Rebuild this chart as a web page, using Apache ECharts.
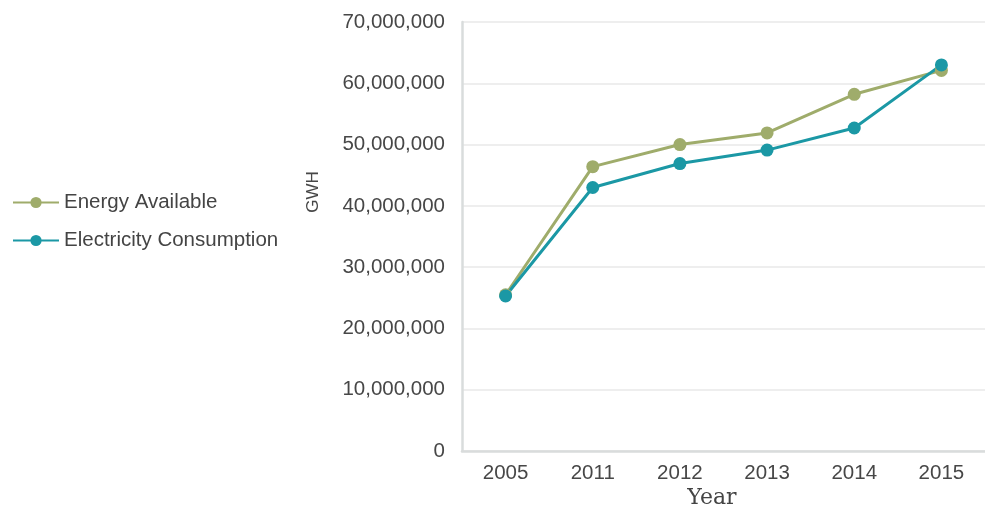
<!DOCTYPE html>
<html>
<head>
<meta charset="utf-8">
<script src="https://cdn.jsdelivr.net/npm/echarts@6/dist/echarts.min.js"></script>
<style>
  html, body { margin: 0; padding: 0; background: #ffffff; }
  #chart { width: 985px; height: 512px; }
</style>
</head>
<body>
<div id="chart"></div>
<script>
// Years on the category axis
const years = ['2005', '2011', '2012', '2013', '2014', '2015'];

// Annual totals in GWH
const energyAvailable = [25500000, 46400000, 50000000, 51900000, 58200000, 62100000];
const electricityConsumption = [25300000, 43000000, 46900000, 49100000, 52700000, 63000000];

// Value axis ticks
const yMin = 0;
const yMax = 70000000;
const yStep = 10000000;

const olive = '#9fac6b';
const teal = '#1b98a5';
const labelFont = 'Liberation Sans, Arial, sans-serif';
const labelSize = 20.5;

const chart = echarts.init(document.getElementById('chart'));

chart.setOption({
  animation: false,
  backgroundColor: '#ffffff',
  grid: { left: 462, top: 22, width: 530, height: 429, containLabel: false },
  legend: {
    orient: 'vertical',
    left: 12,
    top: 192,
    padding: 0,
    itemWidth: 46,
    itemHeight: 14,
    itemGap: 17,
    textStyle: { fontFamily: labelFont, fontSize: labelSize, color: '#444444' },
    data: ['Energy Available', 'Electricity Consumption']
  },
  xAxis: {
    type: 'category',
    data: years,
    boundaryGap: true,
    axisLine: { show: true, lineStyle: { color: '#d9dcdc', width: 2.5 } },
    axisTick: { show: false },
    axisLabel: { margin: 12, fontFamily: labelFont, fontSize: labelSize, color: '#474747' },
    splitLine: { show: false }
  },
  yAxis: {
    type: 'value',
    min: yMin,
    max: yMax,
    interval: yStep,
    axisLine: { show: true, lineStyle: { color: '#d9dcdc', width: 2.5 } },
    axisTick: { show: false },
    axisLabel: {
      margin: 17,
      fontFamily: labelFont,
      fontSize: labelSize,
      color: '#474747',
      formatter: v => v.toLocaleString('en-US')
    },
    splitLine: { show: true, lineStyle: { color: '#e8e8e8', width: 1.5 } }
  },
  graphic: [
    {
      type: 'text',
      x: 313,
      y: 192,
      rotation: Math.PI / 2,
      style: {
        text: 'GWH',
        fontFamily: labelFont,
        fontSize: 17,
        fill: '#474747',
        textAlign: 'center',
        textVerticalAlign: 'middle'
      }
    },
    {
      type: 'text',
      x: 712,
      y: 498,
      style: {
        text: 'Year',
        fontFamily: 'DejaVu Serif, serif',
        fontSize: 22,
        fill: '#444444',
        textAlign: 'center',
        textVerticalAlign: 'middle'
      }
    }
  ],
  series: [
    {
      name: 'Energy Available',
      type: 'line',
      data: energyAvailable,
      symbol: 'circle',
      symbolSize: 13,
      itemStyle: { color: olive },
      lineStyle: { color: olive, width: 3 }
    },
    {
      name: 'Electricity Consumption',
      type: 'line',
      data: electricityConsumption,
      symbol: 'circle',
      symbolSize: 13,
      itemStyle: { color: teal },
      lineStyle: { color: teal, width: 3 }
    }
  ]
});
</script>
</body>
</html>
